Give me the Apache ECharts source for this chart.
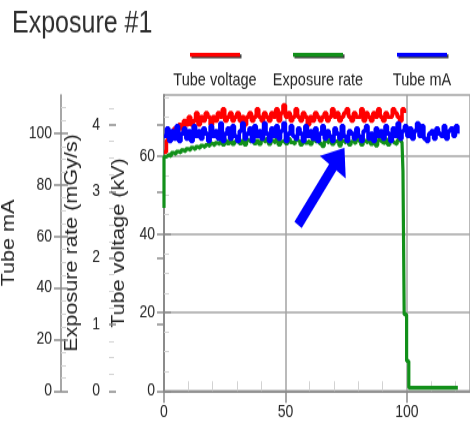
<!DOCTYPE html>
<html><head><meta charset="utf-8">
<script src="https://cdn.jsdelivr.net/npm/echarts@6/dist/echarts.min.js"></script>
<style>
html,body{margin:0;padding:0;background:#fff;width:470px;height:423px;}
#wrap{position:absolute;left:0;top:0;width:470px;height:423px;overflow:visible;}
#chart{position:absolute;left:0;top:0;width:470px;height:352px;transform:scaleY(1.2017);transform-origin:0 0;}
</style></head><body><div id="wrap"><div id="chart"></div></div>
<script>
// ---- data ----
const xTickLabels = [0, 50, 100];
const xMinorTicks = [10, 20, 30, 40, 60, 70, 80, 90, 110, 120];
const voltageTicks = [0, 20, 40, 60];
const rateTicks = [0, 1, 2, 3, 4];
const mATicks = [0, 20, 40, 60, 80, 100];
const legendNames = ['Tube voltage', 'Exposure rate', 'Tube mA'];

// Tube voltage (kV), one sample per second from t = 0
const tubeVoltage = [
  61, 64, 66, 65, 67, 66, 68, 67, 69, 68, 70, 68, 69, 71, 68, 70, 69, 71, 70, 68,
  70, 69, 71, 70, 72, 69, 70, 71, 69, 70, 71, 69, 70, 68, 70, 71, 69, 70, 72, 70,
  69, 71, 70, 69, 71, 70, 72, 69, 71, 73, 70, 71, 69, 70, 72, 70, 69, 71, 70, 68,
  70, 69, 71, 70, 69, 70, 71, 69, 70, 72, 70, 71, 69, 70, 71, 72, 70, 69, 71, 70,
  70, 72, 69, 71, 70, 69, 71, 70, 72, 70, 69, 71, 70, 70, 72, 71, 70, 69, 72, 71
];
// Tube current (mA), one sample per second from t = 0
const tubeCurrent = [
  99, 102, 97, 101, 98, 103, 97, 100, 102, 98, 101, 97, 103, 99, 101, 98, 102, 100, 97, 103,
  99, 101, 98, 104, 97, 100, 102, 98, 103, 99, 97, 101, 104, 98, 100, 102, 97, 103, 99, 101,
  98, 104, 100, 97, 102, 99, 103, 98, 101, 104, 97, 100, 103, 99, 98, 102, 100, 97, 103, 99,
  101, 98, 102, 97, 100, 103, 98, 101, 99, 97, 102, 100, 98, 103, 99, 97, 101, 100, 98, 102,
  99, 97, 101, 103, 98, 100, 97, 102, 99, 101, 98, 103, 100, 97, 102, 99, 104, 98, 101, 103,
  99, 102, 98, 101, 104, 99, 103, 98, 97, 100, 101, 98, 102, 100, 99, 103, 98, 101, 102, 99, 103, 100
];
// Exposure rate (mGy/s)
const exposureStartRate = 2.75;           // first reading at t = 0
const exposureRate = [                    // t = 0 .. 98
  3.52, 3.55, 3.53, 3.58, 3.56, 3.60, 3.58, 3.62, 3.60, 3.64, 3.62, 3.66, 3.63, 3.67, 3.65, 3.69, 3.66, 3.70, 3.68, 3.72,
  3.69, 3.73, 3.71, 3.75, 3.70, 3.76, 3.72, 3.77, 3.71, 3.75, 3.78, 3.72, 3.76, 3.70, 3.77, 3.74, 3.79, 3.72, 3.76, 3.71,
  3.77, 3.74, 3.79, 3.71, 3.76, 3.73, 3.78, 3.70, 3.75, 3.77, 3.72, 3.79, 3.74, 3.71, 3.77, 3.75, 3.70, 3.78, 3.73, 3.76,
  3.71, 3.77, 3.74, 3.79, 3.72, 3.68, 3.76, 3.73, 3.78, 3.71, 3.75, 3.77, 3.69, 3.76, 3.73, 3.78, 3.70, 3.75, 3.72, 3.77,
  3.74, 3.70, 3.76, 3.73, 3.78, 3.71, 3.75, 3.69, 3.77, 3.74, 3.72, 3.78, 3.70, 3.76, 3.73, 3.71, 3.77, 3.74, 3.75
];
const exposureTailT = [98.2, 98.4, 98.9, 99.9, 100.8, 121];
const exposureTailRate = [3.74, 3.3, 1.15, 0.45, 0.05, 0.05];

// annotation arrow (time s, kV)
const arrowFrom = [55.2, 42.4];
const arrowTo = [71.9, 59.6];

// ---- chart ----
const F = '"Liberation Sans", Arial, sans-serif';
const AX = '#8a8a8a';
const GRIDC = '#a3a3a3';
const colors = ['#ff0000', '#12901a', '#0000ff'];
const TXT = '#262626';

const voltageData = tubeVoltage.map((v, i) => [i, v]);
const currentData = tubeCurrent.map((v, i) => [i, v]);
const rateData = [[0, exposureStartRate]]
  .concat(exposureRate.map((v, i) => [i, v]))
  .concat(exposureTailT.map((t, i) => [t, exposureTailRate[i]]));

function primaryY(name, max, interval, ticks, offset, gap, split) {
  return {
    type: 'value', position: 'left', offset: offset, min: 0, max: max, interval: interval,
    name: name, nameLocation: 'middle', nameGap: gap,
    nameTextStyle: { fontSize: 18, color: TXT, fontFamily: F },
    axisLine: { show: true, lineStyle: { color: AX, width: 1.5 } },
    axisTick: { show: true, inside: false, length: 7, customValues: ticks, lineStyle: { color: AX, width: 1.5 } },
    axisLabel: { customValues: ticks, margin: 9, fontSize: 14, color: TXT, fontFamily: F },
    splitLine: { show: !!split, lineStyle: { color: GRIDC, width: 1.5 } },
    minorTick: { show: false }
  };
}
function secondaryY(max, interval, ticks, offset) {
  return {
    type: 'value', position: 'left', offset: offset, min: 0, max: max, interval: interval,
    axisLine: { show: false },
    axisLabel: { show: false },
    axisTick: { show: true, inside: true, length: 7, customValues: ticks, lineStyle: { color: AX, width: 1.5 } },
    minorTick: { show: true, splitNumber: 4, length: 5, lineStyle: { color: '#d2d2d2', width: 1 } },
    splitLine: { show: false }
  };
}

const legendX = [190, 293, 397];
const graphicEls = [];
legendNames.forEach((n, i) => {
  graphicEls.push({ type: 'rect', shape: { x: legendX[i] + 1.5, y: 45.2, width: 50, height: 3.4 }, style: { fill: '#3c3c3c' } });
  graphicEls.push({ type: 'rect', shape: { x: legendX[i], y: 44.0, width: 50, height: 3.2 }, style: { fill: colors[i] } });
  graphicEls.push({ type: 'text', style: { text: n, x: legendX[i] + 25, y: 66.6, align: 'center', verticalAlign: 'middle', textAlign: 'center', textVerticalAlign: 'middle', fontSize: 14.5, fill: TXT, fontFamily: F } });
});

const chart = echarts.init(document.getElementById('chart'), null, { renderer: 'canvas' });
chart.setOption({
  animation: false,
  backgroundColor: '#fff',
  title: { text: 'Exposure #1', left: 12, top: 8, padding: 0, textStyle: { fontSize: 25, fontWeight: 'normal', color: '#2e2e2e', fontFamily: F } },
  graphic: { elements: graphicEls },
  grid: { left: 164, right: 0, top: 79, height: 246.3, containLabel: false, outerBoundsMode: 'none', show: true, borderColor: GRIDC, borderWidth: 1.5, backgroundColor: 'transparent' },
  xAxis: [
    {
      type: 'value', position: 'bottom', min: 0, max: 126, interval: 50,
      axisLine: { show: true, onZero: false, lineStyle: { color: AX, width: 1.5 } },
      axisTick: { show: true, inside: false, length: 10, customValues: xTickLabels, lineStyle: { color: AX, width: 1.5 } },
      axisLabel: { customValues: xTickLabels, margin: 11, fontSize: 14, color: TXT, fontFamily: F },
      splitLine: { show: true, lineStyle: { color: GRIDC, width: 1.5 } }
    },
    {
      type: 'value', position: 'bottom', min: 0, max: 126, interval: 50,
      axisLine: { show: false },
      axisLabel: { show: false },
      axisTick: { show: true, inside: true, length: 8, customValues: xMinorTicks, lineStyle: { color: '#d2d2d2', width: 1 } },
      splitLine: { show: false }
    }
  ],
  yAxis: [
    primaryY('Tube voltage (kV)', 75.6, 20, voltageTicks, 0, 29, true),
    primaryY('Exposure rate (mGy/s)', 4.45, 1, rateTicks, 55, 20, false),
    primaryY('Tube mA', 115, 20, mATicks, 103, 35, false),
    secondaryY(75.6, 20, voltageTicks, 0),
    secondaryY(4.45, 1, rateTicks, 55),
    secondaryY(115, 20, mATicks, 103)
  ],
  series: [
    {
      name: legendNames[0], type: 'line', step: 'end', xAxisIndex: 0, yAxisIndex: 0, data: voltageData,
      showSymbol: false, symbol: 'none', lineStyle: { color: colors[0], width: 3.6 }, itemStyle: { color: colors[0] },
      markLine: {
        silent: true, symbol: ['none', 'triangle'], symbolSize: [32, 20], label: { show: false },
        lineStyle: { color: '#0000ff', width: 9, type: 'solid' }, itemStyle: { color: '#0000ff' },
        emphasis: { disabled: true },
        data: [[{ coord: arrowFrom }, { coord: arrowTo }]]
      }
    },
    {
      name: legendNames[1], type: 'line', step: 'end', xAxisIndex: 0, yAxisIndex: 1, data: rateData,
      showSymbol: false, symbol: 'none', lineStyle: { color: colors[1], width: 3.2 }, itemStyle: { color: colors[1] }
    },
    {
      name: legendNames[2], type: 'line', step: 'end', xAxisIndex: 0, yAxisIndex: 2, data: currentData,
      showSymbol: false, symbol: 'none', lineStyle: { color: colors[2], width: 3.6 }, itemStyle: { color: colors[2] }
    }
  ]
});
</script></body></html>
